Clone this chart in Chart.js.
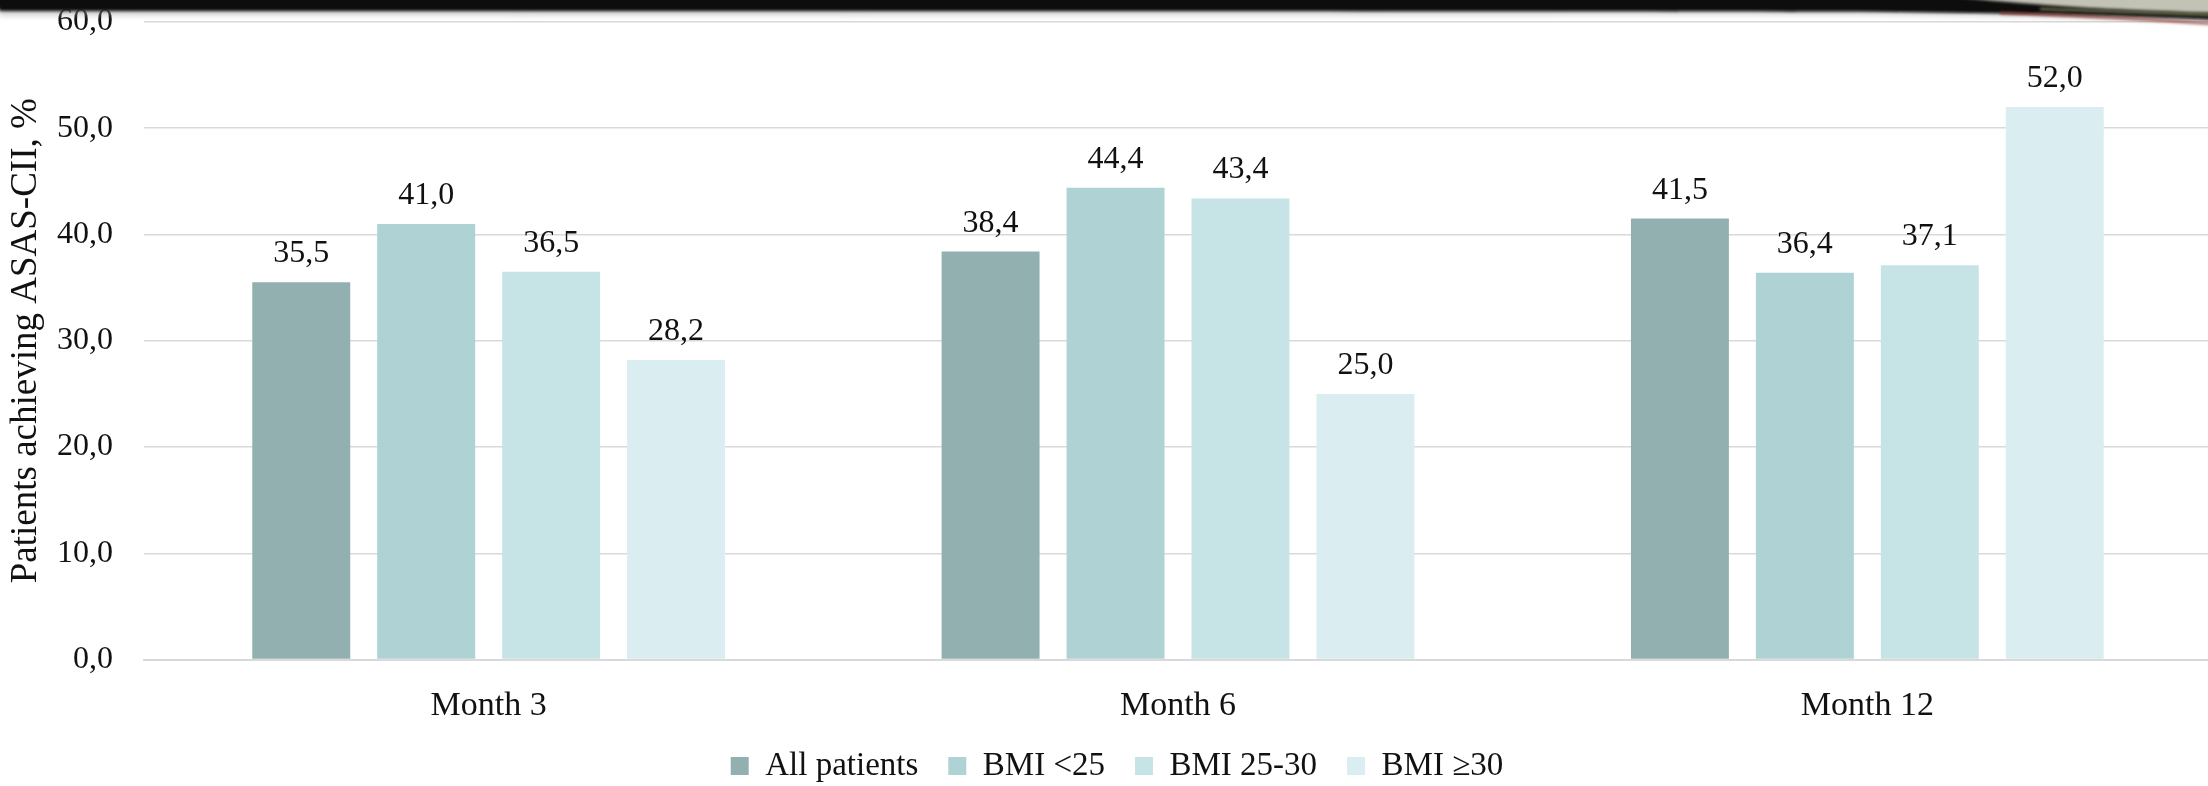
<!DOCTYPE html>
<html>
<head>
<meta charset="utf-8">
<script src="https://cdn.jsdelivr.net/npm/chart.js@4/dist/chart.umd.min.js"></script>
<style>
  html, body { margin: 0; padding: 0; background: #fff; overflow: hidden; width: 2208px; height: 786px; }
  #wrap { position: absolute; left: 0; top: 0; width: 2212px; height: 800px; }
  #band { position: absolute; left: 0; top: 0; pointer-events: none; }
</style>
</head>
<body>
<div id="wrap"><canvas id="chart" width="2212" height="800"></canvas></div>
<svg id="band" width="2208" height="36" viewBox="0 0 2208 36">
  <defs>
    <filter id="soft" x="-5%" y="-50%" width="110%" height="200%"><feGaussianBlur stdDeviation="1.5"/></filter>
    <filter id="haze" x="-5%" y="-50%" width="110%" height="200%"><feGaussianBlur stdDeviation="3"/></filter>
  </defs>
  <!-- soft grey shadow under the band -->
  <path d="M-10 -6 L2220 -6 L2220 22 C2100 17 2000 15 1850 14 C1500 14 800 15 0 15 Z" fill="#9a9a9a" opacity="0.55" filter="url(#haze)"/>
  <!-- dark band -->
  <path d="M-10 -6 L2220 -6 L2220 20 C2120 16 2020 13 1900 12 C1600 11 900 11 0 11 Z" fill="#070707" filter="url(#soft)"/>
  <!-- pale streak at the top right -->
  <path d="M1930 -6 L2220 -6 L2220 13 C2120 10 2030 6 1930 -6 Z" fill="#d6d6c8" opacity="0.9" filter="url(#soft)"/>
  <path d="M2000 13 C2090 16 2160 20 2215 24" stroke="#8c2a22" stroke-width="1.8" fill="none" filter="url(#soft)"/>
  <path d="M2040 9 C2110 11 2170 13 2215 15" stroke="#a9b070" stroke-width="1.5" fill="none" filter="url(#soft)"/>
</svg>
<script>
// Share of patients reaching ASAS partial remission, by BMI group and visit
const categories = ['Month 3', 'Month 6', 'Month 12'];
const allPatients = [35.5, 38.4, 41.5];
const bmiUnder25 = [41.0, 44.4, 36.4];
const bmi25to30 = [36.5, 43.4, 37.1];
const bmiOver30 = [28.2, 25.0, 52.0];
const seriesNames = ['All patients', 'BMI <25', 'BMI 25-30', 'BMI \u226530'];
const seriesColors = ['#93B0B1', '#AFD2D4', '#C6E4E6', '#DAEDF0'];
const yTickValues = [0, 10, 20, 30, 40, 50, 60];

const FONT = '"Liberation Serif", "Times New Roman", serif';
const INK = '#111111';
const fmt = v => Number(v).toFixed(1).replace('.', ',');

// Writes each bar's value above it
const valueLabels = {
  id: 'valueLabels',
  afterDatasetsDraw(chart) {
    const ctx = chart.ctx;
    ctx.save();
    ctx.font = '32px ' + FONT;
    ctx.fillStyle = INK;
    ctx.textAlign = 'center';
    ctx.textBaseline = 'alphabetic';
    chart.data.datasets.forEach((ds, i) => {
      const meta = chart.getDatasetMeta(i);
      if (meta.hidden) return;
      meta.data.forEach((bar, j) => {
        ctx.fillText(fmt(ds.data[j]), bar.x, bar.y - 20);
      });
    });
    ctx.restore();
  }
};

const seriesData = [allPatients, bmiUnder25, bmi25to30, bmiOver30];

new Chart(document.getElementById('chart'), {
  type: 'bar',
  data: {
    labels: categories,
    datasets: seriesData.map((d, i) => ({
      label: seriesNames[i],
      data: d,
      backgroundColor: seriesColors[i],
      borderWidth: 0,
      categoryPercentage: 0.725,
      barPercentage: 0.784
    }))
  },
  options: {
    responsive: false,
    animation: false,
    devicePixelRatio: 1,
    layout: { padding: { top: 22, left: 22, right: 0, bottom: 7.5 } },
    plugins: {
      tooltip: { enabled: false },
      legend: {
        position: 'bottom',
        labels: {
          boxWidth: 18,
          boxHeight: 18,
          padding: 30,
          color: INK,
          font: { family: FONT, size: 33 }
        }
      }
    },
    scales: {
      x: {
        grid: { display: false, drawTicks: false },
        border: { display: true, color: '#D9D9D9', width: 2 },
        ticks: { color: INK, font: { family: FONT, size: 34 }, padding: 26 },
        afterFit(scale) { scale.height = 60; }
      },
      y: {
        min: 0,
        max: 60,
        afterBuildTicks(scale) { scale.ticks = yTickValues.map(v => ({ value: v })); },
        grid: { color: '#D9D9D9', lineWidth: 1.5, drawTicks: false },
        border: { display: false },
        ticks: { color: INK, font: { family: FONT, size: 32 }, padding: 31, callback: v => fmt(v) },
        title: {
          display: true,
          text: 'Patients achieving ASAS-CII, %',
          color: INK,
          font: { family: FONT, size: 37 },
          padding: { top: -18, bottom: 0 }
        },
        afterFit(scale) {
          scale.width = 122;
          scale.paddingTop = 0;
          scale.paddingBottom = 0;
        }
      }
    }
  },
  plugins: [valueLabels]
});
</script>
</body>
</html>
